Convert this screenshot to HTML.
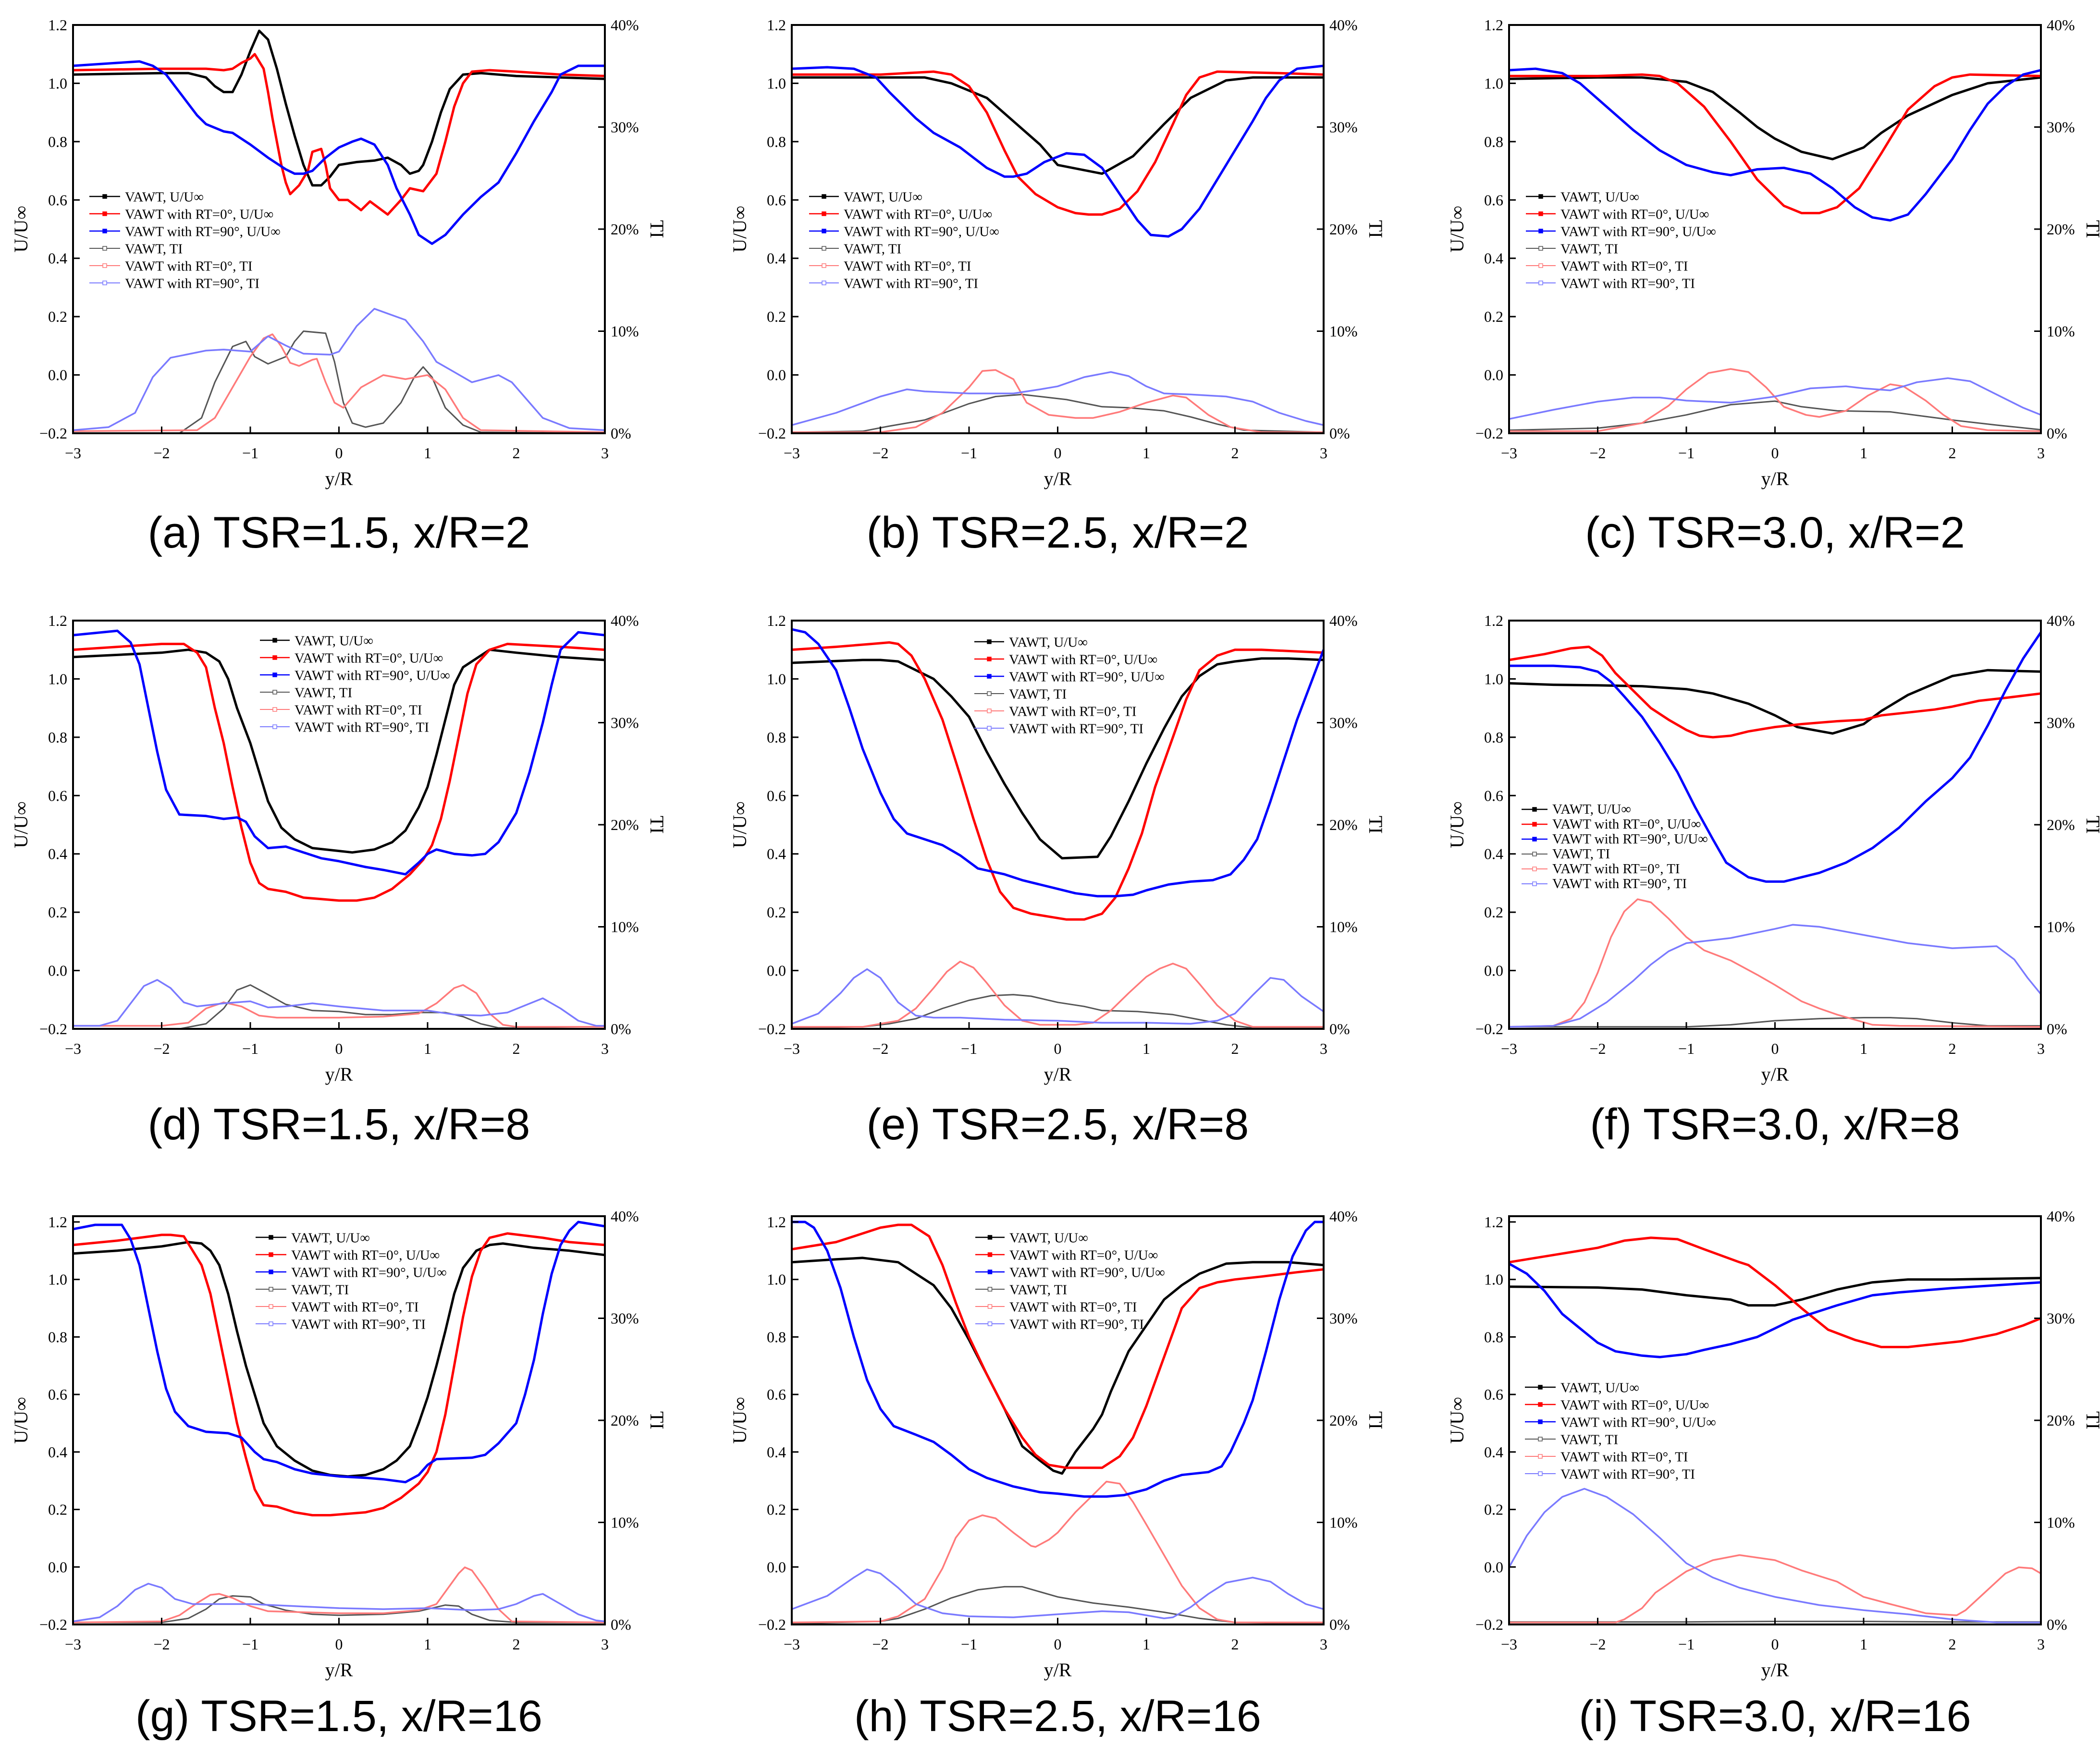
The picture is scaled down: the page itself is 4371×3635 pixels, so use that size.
<!DOCTYPE html>
<html><head><meta charset="utf-8">
<style>
html,body{margin:0;padding:0;background:#fff;}
svg{display:block;}
.tick{font-family:"Liberation Serif",serif;font-size:32px;fill:#000;}
.ttl{font-family:"Liberation Serif",serif;font-size:40px;fill:#000;}
.leg{font-family:"Liberation Serif",serif;font-size:29px;fill:#000;}
.cap{font-family:"Liberation Sans",sans-serif;font-size:92px;fill:#000;}
</style></head>
<body>
<svg id="fig" xmlns="http://www.w3.org/2000/svg" width="4371" height="3635" viewBox="0 0 4371 3635">
<rect width="4371" height="3635" fill="#fff"/>
</svg>
<script>
// ---------- DATA (y/R, U/U∞) and (y/R, TI %) ----------
const a_U_vawt=[[-3,1.03],[-2,1.035],[-1.7,1.035],[-1.5,1.02],[-1.4,0.99],[-1.3,0.97],[-1.2,0.97],[-1.1,1.03],[-1,1.11],[-0.9,1.18],[-0.8,1.15],[-0.7,1.05],[-0.6,0.93],[-0.5,0.82],[-0.4,0.72],[-0.3,0.65],[-0.2,0.65],[-0.1,0.68],[0,0.72],[0.2,0.73],[0.4,0.735],[0.55,0.745],[0.7,0.72],[0.8,0.69],[0.9,0.7],[0.95,0.72],[1.05,0.8],[1.15,0.9],[1.25,0.98],[1.4,1.03],[1.6,1.035],[2,1.025],[3,1.015]];
const a_U_rt0=[[-3,1.045],[-2,1.05],[-1.5,1.05],[-1.3,1.045],[-1.2,1.05],[-1.1,1.07],[-1,1.085],[-0.95,1.1],[-0.85,1.05],[-0.8,0.97],[-0.75,0.88],[-0.7,0.8],[-0.65,0.72],[-0.6,0.66],[-0.55,0.62],[-0.45,0.65],[-0.35,0.7],[-0.3,0.765],[-0.2,0.775],[-0.15,0.72],[-0.1,0.64],[0,0.6],[0.1,0.6],[0.25,0.565],[0.35,0.595],[0.55,0.55],[0.7,0.6],[0.8,0.64],[0.95,0.63],[1.1,0.69],[1.2,0.8],[1.3,0.92],[1.4,1],[1.5,1.04],[1.7,1.045],[2,1.04],[2.5,1.03],[3,1.025]];
const a_U_rt90=[[-3,1.06],[-2.5,1.07],[-2.25,1.075],[-2.1,1.06],[-1.95,1.03],[-1.8,0.97],[-1.6,0.89],[-1.5,0.86],[-1.3,0.835],[-1.2,0.83],[-1,0.79],[-0.8,0.745],[-0.6,0.705],[-0.5,0.69],[-0.4,0.69],[-0.3,0.7],[-0.15,0.745],[0,0.78],[0.15,0.8],[0.25,0.81],[0.4,0.79],[0.55,0.72],[0.65,0.64],[0.8,0.55],[0.9,0.48],[1.05,0.45],[1.2,0.48],[1.4,0.55],[1.6,0.61],[1.8,0.66],[2,0.76],[2.2,0.87],[2.4,0.97],[2.5,1.03],[2.7,1.06],[3,1.06]];
const a_TI_vawt=[[-3,0],[-1.8,0],[-1.55,1.5],[-1.4,5],[-1.2,8.5],[-1.05,9],[-0.95,7.5],[-0.8,6.8],[-0.6,7.5],[-0.5,9],[-0.4,10],[-0.15,9.8],[-0.05,7],[0.05,3],[0.15,1],[0.3,0.6],[0.5,1],[0.7,3],[0.85,5.5],[0.95,6.5],[1.05,5.5],[1.2,2.5],[1.4,0.8],[1.6,0.1],[3,0]];
const a_TI_rt0=[[-3,0.2],[-1.6,0.3],[-1.4,1.5],[-1.2,4.5],[-1,7.5],[-0.85,9.3],[-0.75,9.7],[-0.65,8.5],[-0.55,6.9],[-0.45,6.6],[-0.3,7.2],[-0.25,7.3],[-0.15,5],[-0.05,3],[0.05,2.5],[0.25,4.5],[0.5,5.7],[0.75,5.3],[1,5.7],[1.2,4.3],[1.4,1.5],[1.6,0.3],[3,0.1]];
const a_TI_rt90=[[-3,0.3],[-2.6,0.6],[-2.3,2],[-2.1,5.5],[-1.9,7.4],[-1.5,8.1],[-1.3,8.2],[-1,8],[-0.8,9.5],[-0.6,8.6],[-0.4,7.8],[-0.1,7.7],[0,8],[0.2,10.5],[0.4,12.2],[0.75,11.1],[0.95,9],[1.1,7],[1.3,6],[1.5,5],[1.8,5.7],[1.95,5],[2.15,3],[2.3,1.5],[2.6,0.5],[3,0.3]];

const b_U_vawt=[[-3,1.02],[-1.5,1.02],[-1.2,1],[-0.8,0.95],[-0.5,0.87],[-0.2,0.79],[0,0.72],[0.5,0.69],[0.85,0.75],[1.2,0.86],[1.5,0.95],[1.9,1.01],[2.2,1.02],[3,1.02]];
const b_U_rt0=[[-3,1.03],[-2,1.03],[-1.4,1.04],[-1.2,1.03],[-1,0.99],[-0.8,0.9],[-0.6,0.77],[-0.45,0.68],[-0.25,0.62],[0,0.575],[0.2,0.555],[0.35,0.55],[0.5,0.55],[0.7,0.57],[0.9,0.63],[1.1,0.73],[1.3,0.86],[1.45,0.96],[1.6,1.02],[1.8,1.04],[2.5,1.035],[3,1.03]];
const b_U_rt90=[[-3,1.05],[-2.6,1.055],[-2.3,1.05],[-2.05,1.02],[-1.9,0.97],[-1.6,0.88],[-1.4,0.83],[-1.1,0.78],[-0.8,0.71],[-0.6,0.68],[-0.5,0.68],[-0.35,0.69],[-0.15,0.73],[0.1,0.76],[0.3,0.755],[0.5,0.71],[0.7,0.62],[0.9,0.53],[1.05,0.48],[1.25,0.475],[1.4,0.5],[1.6,0.57],[1.8,0.67],[2,0.77],[2.2,0.87],[2.35,0.95],[2.5,1.01],[2.7,1.05],[3,1.06]];
const b_TI_vawt=[[-3,0.1],[-2.2,0.2],[-1.9,0.7],[-1.5,1.3],[-1,2.9],[-0.7,3.6],[-0.4,3.8],[-0.2,3.6],[0.1,3.3],[0.5,2.6],[0.8,2.5],[1.2,2.2],[1.5,1.6],[1.8,0.9],[2.1,0.3],[3,0.1]];
const b_TI_rt0=[[-3,0.1],[-2,0.1],[-1.6,0.6],[-1.3,2],[-1,4.5],[-0.85,6.1],[-0.7,6.2],[-0.5,5.3],[-0.35,3],[-0.1,1.8],[0.2,1.5],[0.4,1.5],[0.7,2.1],[1,3],[1.3,3.7],[1.45,3.5],[1.7,1.8],[1.95,0.6],[2.3,0.1],[3,0.1]];
const b_TI_rt90=[[-3,0.8],[-2.5,2],[-2,3.6],[-1.7,4.3],[-1.5,4.1],[-1,3.9],[-0.5,3.9],[-0.2,4.3],[0,4.6],[0.3,5.5],[0.6,6],[0.8,5.6],[1,4.6],[1.2,3.9],[1.5,3.8],[1.9,3.6],[2.2,3.1],[2.5,2],[2.8,1.2],[3,0.8]];

const c_U_vawt=[[-3,1.015],[-2,1.02],[-1.5,1.02],[-1,1.005],[-0.7,0.97],[-0.4,0.9],[-0.2,0.85],[0,0.81],[0.3,0.765],[0.65,0.74],[1,0.78],[1.2,0.83],[1.5,0.89],[2,0.96],[2.4,1],[3,1.02]];
const c_U_rt0=[[-3,1.025],[-2,1.025],[-1.5,1.03],[-1.3,1.025],[-1.1,1],[-0.8,0.92],[-0.5,0.8],[-0.2,0.67],[0.1,0.58],[0.3,0.555],[0.5,0.555],[0.7,0.575],[0.95,0.64],[1.2,0.76],[1.5,0.91],[1.8,0.99],[2,1.02],[2.2,1.03],[3,1.025]];
const c_U_rt90=[[-3,1.045],[-2.7,1.05],[-2.4,1.035],[-2.2,1],[-1.9,0.92],[-1.6,0.84],[-1.3,0.77],[-1,0.72],[-0.7,0.695],[-0.5,0.685],[-0.2,0.705],[0.1,0.71],[0.4,0.69],[0.65,0.64],[0.9,0.575],[1.1,0.54],[1.3,0.53],[1.5,0.55],[1.7,0.62],[2,0.74],[2.2,0.84],[2.4,0.93],[2.6,0.99],[2.8,1.03],[3,1.045]];
const c_TI_vawt=[[-3,0.3],[-2,0.5],[-1.5,1],[-1,1.8],[-0.5,2.8],[0,3.15],[0.3,2.6],[0.7,2.2],[1.3,2.1],[2,1.3],[2.5,0.8],[3,0.35]];
const c_TI_rt0=[[-3,0.2],[-2,0.2],[-1.5,1],[-1.2,2.7],[-1,4.3],[-0.75,5.9],[-0.5,6.3],[-0.3,6],[-0.1,4.5],[0.1,2.6],[0.35,1.8],[0.5,1.6],[0.8,2.2],[1.05,3.7],[1.3,4.8],[1.45,4.6],[1.7,3.2],[1.9,1.8],[2.1,0.7],[2.4,0.3],[3,0.2]];
const c_TI_rt90=[[-3,1.4],[-2.5,2.3],[-2,3.1],[-1.6,3.5],[-1.3,3.5],[-1,3.2],[-0.5,3],[0,3.6],[0.4,4.4],[0.8,4.6],[1,4.4],[1.3,4.2],[1.6,5],[1.95,5.4],[2.2,5.1],[2.5,3.8],[2.8,2.5],[3,1.8]];

const d_U_vawt=[[-3,1.075],[-2,1.09],[-1.7,1.1],[-1.5,1.09],[-1.35,1.06],[-1.25,1],[-1.15,0.9],[-1,0.78],[-0.9,0.68],[-0.8,0.58],[-0.65,0.49],[-0.5,0.45],[-0.3,0.42],[0,0.41],[0.15,0.405],[0.4,0.415],[0.6,0.44],[0.75,0.48],[0.9,0.56],[1,0.63],[1.1,0.74],[1.2,0.86],[1.3,0.98],[1.4,1.04],[1.6,1.08],[1.7,1.1],[2,1.09],[2.5,1.075],[3,1.065]];
const d_U_rt0=[[-3,1.1],[-2,1.12],[-1.75,1.12],[-1.6,1.09],[-1.5,1.04],[-1.4,0.9],[-1.3,0.78],[-1.2,0.63],[-1.1,0.49],[-1,0.37],[-0.9,0.3],[-0.8,0.28],[-0.6,0.27],[-0.4,0.25],[-0.2,0.245],[0,0.24],[0.2,0.24],[0.4,0.25],[0.6,0.28],[0.8,0.33],[0.95,0.38],[1.05,0.43],[1.15,0.52],[1.25,0.65],[1.35,0.8],[1.45,0.95],[1.55,1.05],[1.7,1.1],[1.9,1.12],[2.5,1.11],[3,1.1]];
const d_U_rt90=[[-3,1.15],[-2.5,1.165],[-2.35,1.125],[-2.25,1.05],[-2.15,0.9],[-2.05,0.75],[-1.95,0.62],[-1.8,0.535],[-1.5,0.53],[-1.3,0.52],[-1.15,0.525],[-1.05,0.51],[-0.95,0.46],[-0.8,0.42],[-0.6,0.425],[-0.4,0.405],[-0.2,0.385],[0,0.375],[0.3,0.355],[0.5,0.345],[0.75,0.33],[0.9,0.37],[1,0.4],[1.1,0.415],[1.3,0.4],[1.5,0.395],[1.65,0.4],[1.8,0.44],[2,0.54],[2.15,0.68],[2.3,0.85],[2.4,0.98],[2.5,1.1],[2.7,1.16],[3,1.15]];
const d_TI_vawt=[[-3,0],[-1.8,0],[-1.5,0.5],[-1.3,2],[-1.15,3.8],[-1,4.3],[-0.85,3.6],[-0.6,2.4],[-0.3,1.8],[0,1.7],[0.3,1.4],[0.6,1.4],[0.9,1.6],[1.2,1.6],[1.4,1.2],[1.6,0.5],[1.8,0.1],[3,0]];
const d_TI_rt0=[[-3,0.3],[-2,0.3],[-1.7,0.6],[-1.5,2],[-1.3,2.6],[-1.1,2.2],[-0.9,1.3],[-0.7,1.1],[0,1.1],[0.5,1.2],[0.9,1.5],[1.1,2.5],[1.3,4],[1.4,4.3],[1.55,3.5],[1.7,1.5],[1.85,0.4],[2,0.2],[3,0.2]];
const d_TI_rt90=[[-3,0.3],[-2.7,0.3],[-2.5,0.8],[-2.35,2.5],[-2.2,4.2],[-2.05,4.8],[-1.9,4],[-1.75,2.6],[-1.6,2.2],[-1.3,2.5],[-1,2.7],[-0.8,2.1],[-0.6,2.2],[-0.3,2.5],[0,2.2],[0.5,1.8],[1,1.8],[1.3,1.4],[1.6,1.3],[1.9,1.6],[2.1,2.3],[2.3,3],[2.5,2],[2.7,0.8],[2.9,0.3],[3,0.3]];

const e_U_vawt=[[-3,1.055],[-2.2,1.065],[-2,1.065],[-1.8,1.06],[-1.6,1.03],[-1.4,1],[-1.2,0.94],[-1,0.87],[-0.8,0.75],[-0.6,0.64],[-0.4,0.54],[-0.2,0.45],[0.05,0.385],[0.45,0.39],[0.6,0.46],[0.8,0.58],[1,0.71],[1.2,0.83],[1.4,0.94],[1.6,1.01],[1.8,1.05],[2,1.06],[2.3,1.07],[2.6,1.07],[3,1.065]];
const e_U_rt0=[[-3,1.1],[-2.5,1.11],[-2.1,1.12],[-1.9,1.125],[-1.8,1.12],[-1.65,1.08],[-1.5,1],[-1.3,0.86],[-1.1,0.67],[-0.95,0.52],[-0.8,0.38],[-0.65,0.27],[-0.5,0.215],[-0.3,0.195],[-0.1,0.185],[0.1,0.175],[0.3,0.175],[0.5,0.195],[0.65,0.25],[0.8,0.35],[0.95,0.47],[1.1,0.63],[1.3,0.8],[1.45,0.93],[1.6,1.03],[1.8,1.08],[2,1.1],[2.3,1.1],[3,1.09]];
const e_U_rt90=[[-3,1.17],[-2.85,1.16],[-2.7,1.12],[-2.5,1.03],[-2.35,0.9],[-2.2,0.76],[-2,0.61],[-1.85,0.52],[-1.7,0.47],[-1.5,0.45],[-1.3,0.43],[-1.1,0.395],[-0.9,0.35],[-0.6,0.33],[-0.4,0.31],[-0.2,0.295],[0,0.28],[0.2,0.265],[0.45,0.255],[0.65,0.255],[0.85,0.26],[1,0.275],[1.25,0.295],[1.5,0.305],[1.75,0.31],[1.95,0.33],[2.1,0.38],[2.25,0.45],[2.4,0.58],[2.55,0.72],[2.7,0.86],[2.85,0.98],[3,1.1]];
const e_TI_vawt=[[-3,0.1],[-2.2,0.2],[-1.9,0.5],[-1.6,1],[-1.3,2],[-1,2.8],[-0.75,3.25],[-0.5,3.35],[-0.3,3.2],[0,2.6],[0.3,2.2],[0.5,1.8],[0.9,1.7],[1.3,1.4],[1.6,0.9],[1.9,0.4],[2.2,0.1],[3,0.1]];
const e_TI_rt0=[[-3,0.2],[-2.2,0.2],[-1.8,0.8],[-1.6,2],[-1.4,4],[-1.25,5.6],[-1.1,6.6],[-0.95,6],[-0.8,4.5],[-0.6,2.3],[-0.4,0.8],[-0.2,0.4],[0.2,0.4],[0.4,0.6],[0.6,1.8],[0.8,3.5],[1,5.1],[1.15,5.9],[1.3,6.4],[1.45,5.9],[1.6,4.4],[1.8,2.3],[2,0.8],[2.2,0.2],[3,0.2]];
const e_TI_rt90=[[-3,0.5],[-2.7,1.5],[-2.45,3.5],[-2.3,5],[-2.15,5.85],[-2,5],[-1.8,2.6],[-1.6,1.3],[-1.4,1.1],[-1.1,1.1],[-0.6,0.9],[0,0.8],[0.5,0.6],[1,0.6],[1.5,0.5],[1.8,0.8],[2,1.5],[2.2,3.3],[2.4,5],[2.55,4.8],[2.75,3.2],[3,1.7]];

const f_U_vawt=[[-3,0.985],[-2.5,0.98],[-2,0.978],[-1.5,0.975],[-1,0.965],[-0.7,0.95],[-0.3,0.915],[0,0.875],[0.25,0.835],[0.65,0.813],[1,0.845],[1.2,0.89],[1.5,0.945],[2,1.01],[2.4,1.03],[3,1.025]];
const f_U_rt0=[[-3,1.065],[-2.6,1.085],[-2.3,1.105],[-2.1,1.11],[-1.95,1.08],[-1.8,1.02],[-1.6,0.96],[-1.4,0.9],[-1.2,0.86],[-1,0.825],[-0.85,0.805],[-0.7,0.8],[-0.5,0.805],[-0.3,0.82],[0,0.835],[0.3,0.845],[0.7,0.855],[1,0.86],[1.2,0.875],[1.5,0.885],[1.8,0.895],[2,0.905],[2.3,0.925],[2.6,0.935],[3,0.95]];
const f_U_rt90=[[-3,1.045],[-2.5,1.045],[-2.2,1.04],[-2,1.025],[-1.85,0.99],[-1.7,0.94],[-1.5,0.87],[-1.3,0.78],[-1.1,0.68],[-0.9,0.56],[-0.7,0.45],[-0.55,0.37],[-0.3,0.32],[-0.1,0.305],[0.1,0.305],[0.3,0.32],[0.5,0.335],[0.8,0.37],[1.1,0.42],[1.4,0.49],[1.7,0.58],[2,0.66],[2.2,0.73],[2.4,0.84],[2.6,0.96],[2.8,1.07],[3,1.16]];
const f_TI_vawt=[[-3,0.2],[-1,0.2],[-0.5,0.4],[0,0.8],[0.5,1],[1,1.1],[1.3,1.1],[1.6,1],[2,0.6],[2.4,0.3],[3,0.3]];
const f_TI_rt0=[[-3,0.2],[-2.5,0.3],[-2.3,1],[-2.15,2.6],[-2,5.5],[-1.85,9],[-1.7,11.5],[-1.55,12.7],[-1.4,12.4],[-1.2,10.8],[-1,9],[-0.8,7.7],[-0.5,6.7],[-0.2,5.3],[0,4.3],[0.3,2.7],[0.5,2],[0.7,1.4],[0.9,0.9],[1.1,0.4],[1.4,0.3],[3,0.2]];
const f_TI_rt90=[[-3,0.2],[-2.5,0.3],[-2.2,1],[-1.9,2.6],[-1.6,4.7],[-1.4,6.3],[-1.2,7.6],[-1,8.4],[-0.5,8.9],[0,9.8],[0.2,10.2],[0.5,10],[1,9.2],[1.5,8.4],[2,7.9],[2.5,8.1],[2.7,6.8],[2.85,5],[3,3.4]];

const g_U_vawt=[[-3,1.09],[-2.5,1.1],[-2,1.115],[-1.7,1.13],[-1.55,1.125],[-1.45,1.1],[-1.35,1.05],[-1.25,0.95],[-1.15,0.82],[-1.05,0.7],[-0.95,0.6],[-0.85,0.5],[-0.7,0.42],[-0.5,0.37],[-0.3,0.335],[-0.1,0.32],[0.1,0.315],[0.3,0.32],[0.5,0.34],[0.65,0.37],[0.8,0.42],[0.9,0.5],[1,0.59],[1.1,0.7],[1.2,0.82],[1.3,0.95],[1.4,1.04],[1.55,1.1],[1.7,1.12],[1.85,1.125],[2.2,1.11],[2.6,1.1],[3,1.085]];
const g_U_rt0=[[-3,1.12],[-2.5,1.135],[-2,1.155],[-1.9,1.155],[-1.75,1.15],[-1.65,1.1],[-1.55,1.05],[-1.45,0.95],[-1.35,0.8],[-1.25,0.65],[-1.15,0.5],[-1.05,0.38],[-0.95,0.27],[-0.85,0.215],[-0.7,0.21],[-0.5,0.19],[-0.3,0.18],[-0.1,0.18],[0.1,0.185],[0.3,0.19],[0.5,0.205],[0.7,0.24],[0.9,0.29],[1,0.33],[1.1,0.4],[1.2,0.53],[1.3,0.7],[1.4,0.87],[1.5,1.01],[1.6,1.1],[1.7,1.145],[1.9,1.16],[2.3,1.145],[2.6,1.13],[3,1.12]];
const g_U_rt90=[[-3,1.175],[-2.75,1.19],[-2.45,1.19],[-2.35,1.14],[-2.25,1.05],[-2.15,0.9],[-2.05,0.75],[-1.95,0.62],[-1.85,0.54],[-1.7,0.49],[-1.5,0.47],[-1.25,0.465],[-1.1,0.45],[-0.95,0.4],[-0.85,0.375],[-0.7,0.365],[-0.5,0.34],[-0.3,0.325],[0,0.315],[0.3,0.31],[0.5,0.305],[0.75,0.295],[0.9,0.32],[1,0.355],[1.1,0.375],[1.5,0.38],[1.65,0.39],[1.8,0.43],[2,0.5],[2.1,0.6],[2.2,0.72],[2.3,0.88],[2.4,1.02],[2.5,1.12],[2.6,1.17],[2.7,1.2],[3,1.185]];
const g_TI_vawt=[[-3,0.2],[-2,0.2],[-1.7,0.6],[-1.5,1.5],[-1.35,2.5],[-1.2,2.8],[-1,2.7],[-0.85,2],[-0.6,1.4],[-0.3,1],[0,0.9],[0.5,1],[0.9,1.3],[1.2,1.9],[1.35,1.8],[1.5,1],[1.7,0.4],[2,0.2],[3,0.2]];
const g_TI_rt0=[[-3,0.2],[-2,0.3],[-1.8,0.9],[-1.6,2.1],[-1.45,2.9],[-1.35,3],[-1.2,2.6],[-1,1.8],[-0.8,1.3],[0,1.1],[0.5,1.1],[0.9,1.4],[1.1,2],[1.25,3.8],[1.35,5],[1.42,5.6],[1.5,5.3],[1.65,3.5],[1.8,1.5],[1.95,0.3],[3,0.2]];
const g_TI_rt90=[[-3,0.3],[-2.7,0.7],[-2.5,1.8],[-2.3,3.4],[-2.15,4],[-2,3.6],[-1.85,2.5],[-1.65,2],[-1.3,2],[-1,2],[-0.5,1.8],[0,1.6],[0.5,1.5],[1,1.6],[1.5,1.4],[1.8,1.5],[2,2],[2.2,2.8],[2.3,3],[2.5,2],[2.7,1],[2.9,0.4],[3,0.3]];

const h_U_vawt=[[-3,1.06],[-2.5,1.07],[-2.2,1.075],[-1.8,1.06],[-1.6,1.02],[-1.4,0.98],[-1.2,0.9],[-1,0.79],[-0.8,0.67],[-0.6,0.55],[-0.4,0.42],[-0.2,0.37],[-0.05,0.335],[0.05,0.325],[0.2,0.4],[0.4,0.48],[0.5,0.53],[0.6,0.61],[0.8,0.75],[1,0.84],[1.2,0.93],[1.4,0.98],[1.6,1.02],[1.9,1.055],[2.2,1.06],[2.6,1.06],[3,1.05]];
const h_U_rt0=[[-3,1.105],[-2.5,1.13],[-2.3,1.15],[-2,1.18],[-1.8,1.19],[-1.65,1.19],[-1.45,1.15],[-1.3,1.05],[-1.15,0.92],[-1,0.8],[-0.8,0.67],[-0.6,0.55],[-0.4,0.45],[-0.25,0.39],[-0.1,0.355],[0.1,0.345],[0.3,0.345],[0.5,0.345],[0.7,0.385],[0.85,0.45],[1,0.56],[1.2,0.73],[1.4,0.9],[1.6,0.97],[1.8,0.99],[2,1],[2.3,1.01],[2.7,1.025],[3,1.035]];
const h_U_rt90=[[-3,1.2],[-2.85,1.2],[-2.75,1.18],[-2.6,1.1],[-2.45,0.97],[-2.3,0.8],[-2.15,0.65],[-2,0.55],[-1.85,0.49],[-1.6,0.46],[-1.4,0.435],[-1.2,0.39],[-1,0.34],[-0.8,0.31],[-0.5,0.28],[-0.2,0.26],[0,0.255],[0.3,0.245],[0.55,0.245],[0.75,0.25],[1,0.27],[1.2,0.3],[1.4,0.32],[1.7,0.33],[1.85,0.35],[1.95,0.4],[2.1,0.5],[2.2,0.58],[2.35,0.75],[2.5,0.93],[2.65,1.08],[2.8,1.17],[2.9,1.2],[3,1.2]];
const h_TI_vawt=[[-3,0.1],[-2,0.3],[-1.8,0.6],[-1.5,1.5],[-1.2,2.6],[-0.9,3.4],[-0.6,3.7],[-0.4,3.7],[-0.2,3.2],[0,2.7],[0.4,2.1],[0.8,1.7],[1.2,1.2],[1.6,0.6],[2,0.2],[3,0.1]];
const h_TI_rt0=[[-3,0.2],[-2,0.3],[-1.8,0.8],[-1.5,2.5],[-1.3,5.5],[-1.15,8.5],[-1,10.2],[-0.85,10.7],[-0.7,10.4],[-0.5,9],[-0.3,7.7],[-0.25,7.6],[-0.1,8.3],[0,9],[0.2,11],[0.4,12.7],[0.55,14],[0.7,13.8],[0.85,12],[1,9.8],[1.2,6.8],[1.4,3.8],[1.6,1.6],[1.8,0.5],[2,0.2],[3,0.2]];
const h_TI_rt90=[[-3,1.5],[-2.6,2.8],[-2.3,4.6],[-2.15,5.4],[-2,5],[-1.8,3.6],[-1.6,2],[-1.3,1.1],[-1,0.8],[-0.5,0.7],[0,1],[0.5,1.3],[0.8,1.2],[1.2,0.6],[1.3,0.7],[1.5,1.7],[1.7,3],[1.9,4.1],[2.2,4.6],[2.4,4.2],[2.6,3],[2.8,2],[3,1.5]];

const i_U_vawt=[[-3,0.975],[-2,0.972],[-1.5,0.965],[-1,0.945],[-0.5,0.93],[-0.3,0.91],[0,0.91],[0.3,0.93],[0.7,0.965],[1.1,0.99],[1.5,1],[2,1],[3,1.005]];
const i_U_rt0=[[-3,1.06],[-2.5,1.085],[-2,1.11],[-1.7,1.135],[-1.4,1.145],[-1.1,1.14],[-0.8,1.105],[-0.4,1.06],[-0.3,1.05],[0,0.98],[0.3,0.9],[0.6,0.825],[0.9,0.79],[1.2,0.765],[1.5,0.765],[1.8,0.775],[2.1,0.785],[2.5,0.81],[2.8,0.84],[3,0.865]];
const i_U_rt90=[[-3,1.055],[-2.8,1.02],[-2.6,0.96],[-2.4,0.88],[-2.2,0.83],[-2,0.78],[-1.8,0.75],[-1.5,0.735],[-1.3,0.73],[-1,0.74],[-0.8,0.755],[-0.5,0.775],[-0.2,0.8],[0,0.83],[0.2,0.86],[0.4,0.88],[0.7,0.91],[1.1,0.945],[1.4,0.955],[2,0.97],[2.5,0.98],[3,0.99]];
const i_TI_vawt=[[-3,0.25],[-1,0.25],[0,0.3],[1,0.3],[2,0.25],[3,0.25]];
const i_TI_rt0=[[-3,0.2],[-1.8,0.2],[-1.7,0.5],[-1.5,1.6],[-1.35,3.1],[-1.15,4.3],[-1,5.2],[-0.7,6.3],[-0.4,6.8],[0,6.3],[0.3,5.3],[0.7,4.2],[1,2.7],[1.3,2],[1.7,1.1],[2.05,0.9],[2.15,1.4],[2.35,3],[2.6,5],[2.75,5.6],[2.9,5.5],[3,5]];
const i_TI_rt90=[[-3,5.6],[-2.8,8.7],[-2.6,11],[-2.4,12.5],[-2.15,13.3],[-1.9,12.5],[-1.6,10.8],[-1.3,8.5],[-1,6],[-0.7,4.6],[-0.4,3.6],[0,2.7],[0.5,1.9],[1,1.4],[1.5,1],[2,0.5],[2.5,0.2],[3,0.2]];

const xTicks=[-3,-2,-1,0,1,2,3];
const yTicks=[-0.2,0,0.2,0.4,0.6,0.8,1.0,1.2];
const tiTicks=[0,10,20,30,40];
const legendLabels=["VAWT, U/U\u221E","VAWT with RT=0\u00B0, U/U\u221E","VAWT with RT=90\u00B0, U/U\u221E","VAWT, TI","VAWT with RT=0\u00B0, TI","VAWT with RT=90\u00B0, TI"];
const captions=["(a) TSR=1.5, x/R=2","(b) TSR=2.5, x/R=2","(c) TSR=3.0, x/R=2","(d) TSR=1.5, x/R=8","(e) TSR=2.5, x/R=8","(f) TSR=3.0, x/R=8","(g) TSR=1.5, x/R=16","(h) TSR=2.5, x/R=16","(i) TSR=3.0, x/R=16"];

// ---------- LAYOUT ----------
const colX=[152,1648,3141], rowY=[52,1292,2532], PW=1107, PH=850;
const capY=[1140,2372,3604];
const panels=[
 {id:'a',ymax:1.2,data:[a_U_vawt,a_U_rt0,a_U_rt90,a_TI_vawt,a_TI_rt0,a_TI_rt90],leg:[186,260,409,36,29]},
 {id:'b',ymax:1.2,data:[b_U_vawt,b_U_rt0,b_U_rt90,b_TI_vawt,b_TI_rt0,b_TI_rt90],leg:[1684,1756,409,36,29]},
 {id:'c',ymax:1.2,data:[c_U_vawt,c_U_rt0,c_U_rt90,c_TI_vawt,c_TI_rt0,c_TI_rt90],leg:[3176,3248,409,36,29]},
 {id:'d',ymax:1.2,data:[d_U_vawt,d_U_rt0,d_U_rt90,d_TI_vawt,d_TI_rt0,d_TI_rt90],leg:[541,613,1333,36,29]},
 {id:'e',ymax:1.2,data:[e_U_vawt,e_U_rt0,e_U_rt90,e_TI_vawt,e_TI_rt0,e_TI_rt90],leg:[2028,2100,1336,36,29]},
 {id:'f',ymax:1.2,data:[f_U_vawt,f_U_rt0,f_U_rt90,f_TI_vawt,f_TI_rt0,f_TI_rt90],leg:[3167,3231,1685,31,25]},
 {id:'g',ymax:1.22,data:[g_U_vawt,g_U_rt0,g_U_rt90,g_TI_vawt,g_TI_rt0,g_TI_rt90],leg:[532,606,2576,36,29]},
 {id:'h',ymax:1.22,data:[h_U_vawt,h_U_rt0,h_U_rt90,h_TI_vawt,h_TI_rt0,h_TI_rt90],leg:[2030,2101,2576,36,29]},
 {id:'i',ymax:1.22,data:[i_U_vawt,i_U_rt0,i_U_rt90,i_TI_vawt,i_TI_rt0,i_TI_rt90],leg:[3174,3248,2888,36,29]}
];
const seriesColor=['#000','#f00','#00f','#555','#ff7a7a','#7a7aff'];
const seriesWidth=[5,5,5,3,3.5,3.5];
const seriesName=['vawt-u','rt0-u','rt90-u','vawt-ti','rt0-ti','rt90-ti'];

const NS='http://www.w3.org/2000/svg';
const svg=document.getElementById('fig');
function mk(tag,attrs,parent){const e=document.createElementNS(NS,tag);for(const k in attrs)e.setAttribute(k,attrs[k]);(parent||svg).appendChild(e);return e;}
function fmtY(v){const s=Math.abs(v).toFixed(1);return v<0?'\u2212'+s:s;}
function fmtX(v){return v<0?'\u2212'+Math.abs(v):String(v);}

panels.forEach((p,k)=>{
  const x0=colX[k%3], y0=rowY[Math.floor(k/3)], x1=x0+PW, y1=y0+PH;
  const xs=v=>x0+(v+3)/6*PW;
  const yl=v=>y1-(v+0.2)/(p.ymax+0.2)*PH;
  const yr=v=>y1-v/40*PH;
  const g=mk('g',{});
  
  
  [3,4,5,0,1,2].forEach(si=>{
    const arr=p.data[si];
    const f=si<3?yl:yr;
    const d=arr.map((pt,j)=>(j?'L':'M')+xs(pt[0]).toFixed(1)+' '+f(pt[1]).toFixed(1)).join(' ');
    const path=mk('path',{d:d,fill:'none',stroke:seriesColor[si],'stroke-width':seriesWidth[si],'stroke-linejoin':'round'},g);
    
    
  });
  const fr=mk('rect',{x:x0,y:y0,width:PW,height:PH,fill:'none',stroke:'#000','stroke-width':4},g);
  
  
  xTicks.forEach(v=>{
    const X=xs(v);
    mk('line',{x1:X,y1:y1,x2:X,y2:y1-14,stroke:'#000','stroke-width':3},g);
    const t=mk('text',{x:X,y:y1+52,'text-anchor':'middle',class:'tick'},g);
    t.textContent=fmtX(v);
    
    
  });
  yTicks.forEach(v=>{
    const Y=yl(v);
    mk('line',{x1:x0,y1:Y,x2:x0+14,y2:Y,stroke:'#000','stroke-width':3},g);
    const t=mk('text',{x:x0-12,y:Y+11,'text-anchor':'end',class:'tick'},g);
    t.textContent=fmtY(v);
    
    
  });
  tiTicks.forEach(v=>{
    const Y=yr(v);
    mk('line',{x1:x1,y1:Y,x2:x1-14,y2:Y,stroke:'#000','stroke-width':3},g);
    const t=mk('text',{x:x1+12,y:Y+11,'text-anchor':'start',class:'tick'},g);
    t.textContent=v+'%';
    
    
  });
  const xt=mk('text',{x:(x0+x1)/2,y:y1+108,'text-anchor':'middle',class:'ttl'},g);
  xt.textContent='y/R';
  
  
  const ytl=mk('text',{x:0,y:0,'text-anchor':'middle',class:'ttl',transform:'translate('+(x0-95)+','+((y0+y1)/2)+') rotate(-90)'},g);
  ytl.textContent='U/U\u221E';
  
  
  const ytr=mk('text',{x:0,y:0,'text-anchor':'middle',class:'ttl',transform:'translate('+(x1+95)+','+((y0+y1)/2)+') rotate(90)'},g);
  ytr.textContent='TI';
  
  
  const [lx,tx,ly,step,fs]=p.leg;
  const lg=mk('g',{},g);
  
  
  legendLabels.forEach((lab,si)=>{
    const Y=ly+si*step;
    mk('line',{x1:lx,y1:Y,x2:tx-10,y2:Y,stroke:seriesColor[si],'stroke-width':si<3?2.5:2},lg);
    mk('rect',{x:(lx+tx-10)/2-4,y:Y-4,width:8,height:8,fill:si<3?seriesColor[si]:'#fff',stroke:seriesColor[si],'stroke-width':1.5},lg);
    const t=mk('text',{x:tx,y:Y+fs*0.36,class:'leg','font-size':fs},lg);
    t.textContent=lab;
    
    
  });
  const c=mk('text',{x:(x0+x1)/2,y:capY[Math.floor(k/3)],'text-anchor':'middle',class:'cap'},g);
  c.textContent=captions[k];
  
  
});
</script>
</body></html>
